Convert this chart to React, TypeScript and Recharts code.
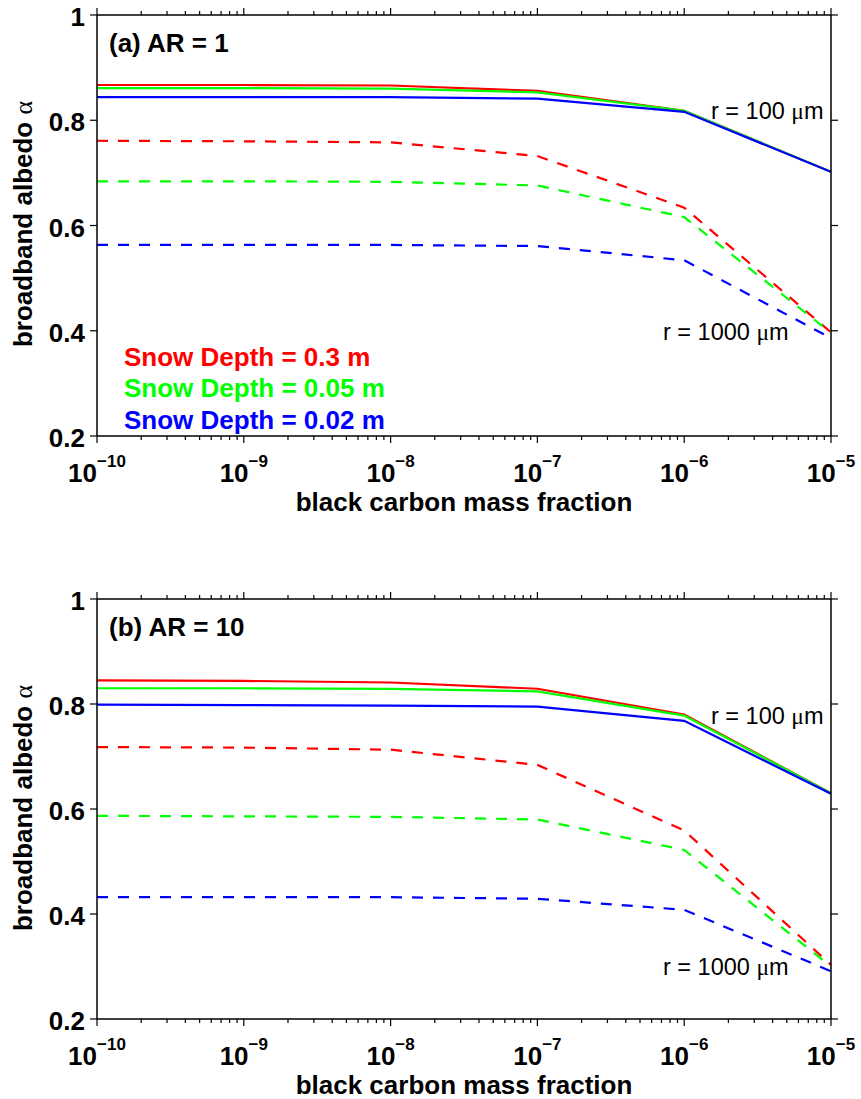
import React from 'react';
import { LineChart, Line, XAxis, YAxis } from 'recharts';

// black carbon mass fraction (x)
const bcFraction = [1e-10, 1e-9, 1e-8, 1e-7, 1e-6, 1e-5];

// (a) AR = 1 ; solid = r 100 um, dashed = r 1000 um
const ar1Red100 = [0.867, 0.867, 0.866, 0.856, 0.818, 0.702];
const ar1Green100 = [0.861, 0.861, 0.860, 0.853, 0.818, 0.702];
const ar1Blue100 = [0.844, 0.844, 0.844, 0.841, 0.816, 0.702];
const ar1Red1000 = [0.761, 0.760, 0.758, 0.732, 0.634, 0.397];
const ar1Green1000 = [0.684, 0.684, 0.683, 0.676, 0.616, 0.396];
const ar1Blue1000 = [0.563, 0.563, 0.563, 0.561, 0.534, 0.386];

// (b) AR = 10
const ar10Red100 = [0.845, 0.844, 0.841, 0.829, 0.780, 0.630];
const ar10Green100 = [0.830, 0.830, 0.829, 0.824, 0.778, 0.630];
const ar10Blue100 = [0.799, 0.798, 0.797, 0.795, 0.768, 0.629];
const ar10Red1000 = [0.718, 0.717, 0.713, 0.684, 0.559, 0.303];
const ar10Green1000 = [0.587, 0.586, 0.585, 0.580, 0.522, 0.300];
const ar10Blue1000 = [0.432, 0.432, 0.432, 0.429, 0.408, 0.291];

const xMajorTicks = [1e-10, 1e-9, 1e-8, 1e-7, 1e-6, 1e-5];
const xExponents = ['\u221210', '\u22129', '\u22128', '\u22127', '\u22126', '\u22125'];
const yTicks = [0.2, 0.4, 0.6, 0.8, 1];
const yTickLabels = ['0.2', '0.4', '0.6', '0.8', '1'];

const legendLabels = ['Snow Depth = 0.3 m', 'Snow Depth = 0.05 m', 'Snow Depth = 0.02 m'];
const depthColors = ['#ff0000', '#00ff00', '#0000ff'];

const FONT = '"Liberation Sans", Arial, Helvetica, sans-serif';
const SYM = '"Liberation Serif", "DejaVu Serif", serif';

// minor log ticks 2..9 inside each decade
const xMinorTicks: number[] = [];
xMajorTicks.slice(0, -1).forEach(d => {
  for (let m = 2; m <= 9; m++) xMinorTicks.push(m * d);
});
const xAllTicks = [...xMajorTicks, ...xMinorTicks];

function majorIndex(v: number) {
  return xMajorTicks.findIndex(t => Math.abs(Math.log10(t) - Math.log10(v)) < 1e-6);
}

function buildRows(series: number[][]) {
  return bcFraction.map((bc, i) => ({
    bc,
    red100: series[0][i],
    green100: series[1][i],
    blue100: series[2][i],
    red1000: series[3][i],
    green1000: series[4][i],
    blue1000: series[5][i],
  }));
}

const rowsA = buildRows([ar1Red100, ar1Green100, ar1Blue100, ar1Red1000, ar1Green1000, ar1Blue1000]);
const rowsB = buildRows([ar10Red100, ar10Green100, ar10Blue100, ar10Red1000, ar10Green1000, ar10Blue1000]);

const BottomTick = (props: any) => {
  const { x, y, payload } = props;
  const idx = majorIndex(payload.value);
  const major = idx >= 0;
  return (
    <g>
      <line x1={x} x2={x} y1={y} y2={y + (major ? 7 : 4)} stroke="#000" strokeWidth={1.2} />
      {major && (
        <text x={x} y={y + 46} textAnchor="middle" fontFamily={FONT} fontWeight="bold" fontSize={26} fill="#000">
          10<tspan dy={-15} fontSize={17}>{xExponents[idx]}</tspan>
        </text>
      )}
    </g>
  );
};

const TopTick = (props: any) => {
  const { x, y, payload } = props;
  const major = majorIndex(payload.value) >= 0;
  return <line x1={x} x2={x} y1={y} y2={y - (major ? 7 : 4)} stroke="#000" strokeWidth={1.2} />;
};

const LeftTick = (props: any) => {
  const { x, y, payload } = props;
  const idx = yTicks.findIndex(t => Math.abs(t - payload.value) < 1e-9);
  return (
    <g>
      <line x1={x - 7} x2={x} y1={y} y2={y} stroke="#000" strokeWidth={1.2} />
      <text x={x - 12} y={y + 11} textAnchor="end" fontFamily={FONT} fontWeight="bold" fontSize={26} fill="#000">
        {yTickLabels[idx]}
      </text>
    </g>
  );
};

const RightTick = (props: any) => {
  const { x, y } = props;
  return <line x1={x} x2={x + 7} y1={y} y2={y} stroke="#000" strokeWidth={1.2} />;
};

interface PanelProps {
  rows: ReturnType<typeof buildRows>;
  height: number;
  xAxisHeight: number;
  title: string;
  r100Y: number;
  r1000Y: number;
  showLegend: boolean;
}

function Panel({ rows, height, xAxisHeight, title, r100Y, r1000Y, showLegend }: PanelProps) {
  const axisLine = { stroke: '#000', strokeWidth: 1.5 };
  const plotBottom = height - xAxisHeight;
  const lines = [
    { key: 'red100', color: depthColors[0], dash: undefined },
    { key: 'green100', color: depthColors[1], dash: undefined },
    { key: 'blue100', color: depthColors[2], dash: undefined },
    { key: 'red1000', color: depthColors[0], dash: '11 10' },
    { key: 'green1000', color: depthColors[1], dash: '11 10' },
    { key: 'blue1000', color: depthColors[2], dash: '11 10' },
  ];
  return (
    <div style={{ position: 'relative', width: 861, height }}>
      <LineChart width={861} height={height} data={rows} margin={{ top: 14, right: 29, left: 0, bottom: 0 }}>
        <XAxis
          xAxisId="b"
          dataKey="bc"
          type="number"
          scale="log"
          domain={[1e-10, 1e-5]}
          allowDataOverflow
          ticks={xAllTicks}
          interval={0}
          tickSize={0}
          tickMargin={0}
          height={xAxisHeight}
          axisLine={axisLine}
          tick={(p: any) => <BottomTick {...p} />}
        />
        <XAxis
          xAxisId="t"
          orientation="top"
          dataKey="bc"
          type="number"
          scale="log"
          domain={[1e-10, 1e-5]}
          allowDataOverflow
          ticks={xAllTicks}
          interval={0}
          tickSize={0}
          tickMargin={0}
          height={1}
          axisLine={axisLine}
          tick={(p: any) => <TopTick {...p} />}
        />
        <YAxis
          yAxisId="l"
          type="number"
          domain={[0.2, 1]}
          allowDataOverflow
          ticks={yTicks}
          interval={0}
          tickSize={0}
          tickMargin={0}
          width={97}
          axisLine={axisLine}
          tick={(p: any) => <LeftTick {...p} />}
        />
        <YAxis
          yAxisId="r"
          orientation="right"
          type="number"
          domain={[0.2, 1]}
          allowDataOverflow
          ticks={yTicks}
          interval={0}
          tickSize={0}
          tickMargin={0}
          width={1}
          axisLine={axisLine}
          tick={(p: any) => <RightTick {...p} />}
        />
        {lines.map(l => (
          <Line
            key={l.key}
            xAxisId="b"
            yAxisId="l"
            type="linear"
            dataKey={l.key}
            stroke={l.color}
            strokeWidth={2.2}
            strokeDasharray={l.dash}
            dot={false}
            activeDot={false}
            isAnimationActive={false}
          />
        ))}
      </LineChart>
      <svg width={861} height={height} style={{ position: 'absolute', left: 0, top: 0, pointerEvents: 'none' }}>
        <text x={109} y={52} fontFamily={FONT} fontWeight="bold" fontSize={26} fill="#000">{title}</text>
        <text x={711} y={r100Y} fontFamily={FONT} fontSize={23.5} fill="#000">
          r = 100 <tspan fontFamily={SYM}>{'\u03bc'}</tspan>m
        </text>
        <text x={663} y={r1000Y} fontFamily={FONT} fontSize={23.5} fill="#000">
          r = 1000 <tspan fontFamily={SYM}>{'\u03bc'}</tspan>m
        </text>
        {showLegend &&
          legendLabels.map((label, i) => (
            <text key={label} x={124} y={366 + i * 31.3} fontFamily={FONT} fontWeight="bold" fontSize={26} fill={depthColors[i]}>
              {label}
            </text>
          ))}
        <text
          x={32}
          y={224}
          transform="rotate(-90, 32, 224)"
          textAnchor="middle"
          fontFamily={FONT}
          fontWeight="bold"
          fontSize={26}
          fill="#000"
        >
          broadband albedo <tspan fontFamily={SYM} fontWeight="normal">{'\u03b1'}</tspan>
        </text>
        <text x={464} y={plotBottom + 75} textAnchor="middle" fontFamily={FONT} fontWeight="bold" fontSize={26} fill="#000">
          black carbon mass fraction
        </text>
      </svg>
    </div>
  );
}

export default function App() {
  return (
    <div style={{ position: 'absolute', left: 0, top: 0, width: 861, height: 1099, background: '#fff', overflow: 'hidden' }}>
      <Panel rows={rowsA} height={584} xAxisHeight={148} title="(a) AR = 1" r100Y={119} r1000Y={340} showLegend />
      <Panel rows={rowsB} height={515} xAxisHeight={80} title="(b) AR = 10" r100Y={140} r1000Y={391} showLegend={false} />
    </div>
  );
}
